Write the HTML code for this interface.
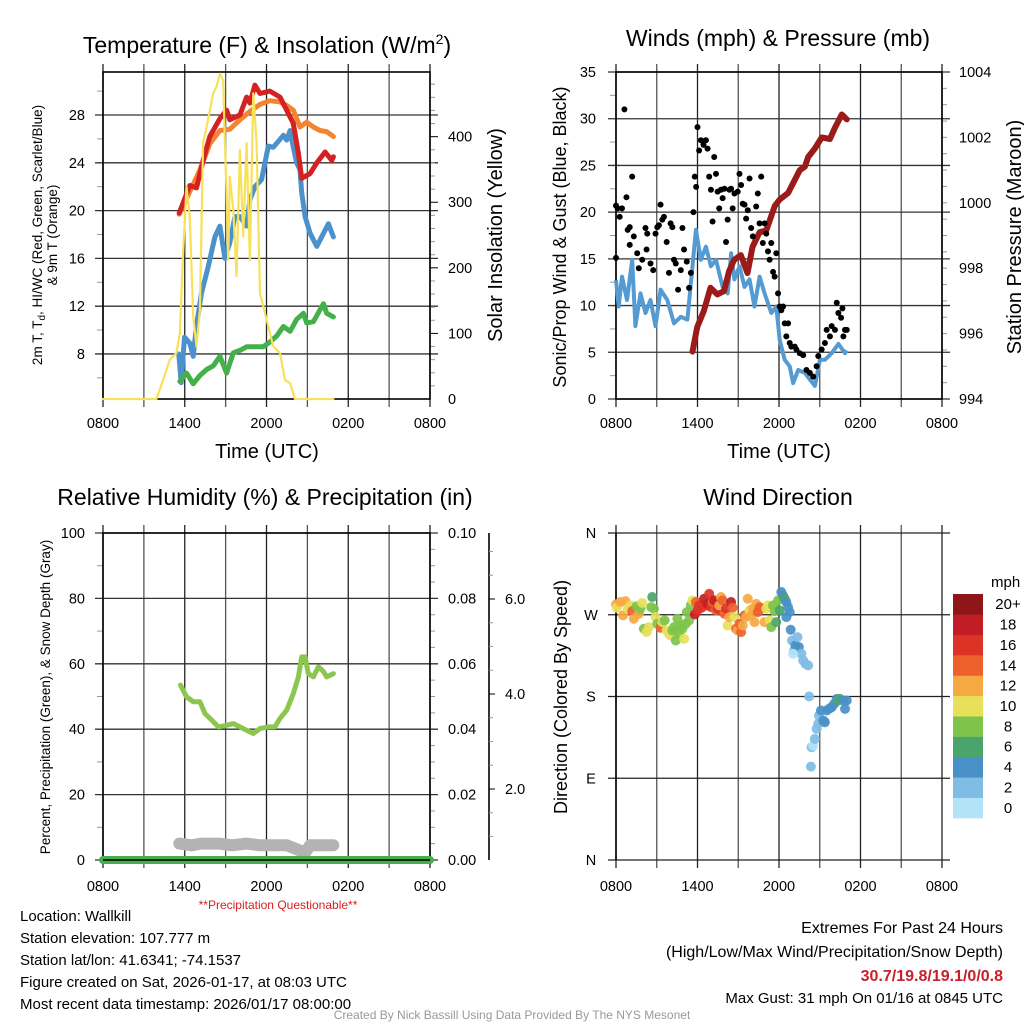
<!DOCTYPE html>
<html><head><meta charset="utf-8">
<style>
html,body{margin:0;padding:0;background:#fff;}
svg{display:block;font-family:"Liberation Sans",Arial,sans-serif;}
</style></head>
<body>
<svg id="fig" width="1024" height="1024" viewBox="0 0 1024 1024" xmlns="http://www.w3.org/2000/svg">
<rect width="1024" height="1024" fill="#fff"/>
<g id="root"></g>
</svg>
<script>
// ---------- Panel 1: temperature & insolation ----------
const tHours=[5.59,6.37,6.86,7.35,7.84,8.58,9.07,9.31,10.05,10.54,10.78,11.15,11.52,12.25,12.99,13.48,13.97,14.34,14.58,15.2,15.69,16.3,16.79,16.91];
const tVals=[19.8,22.1,21.9,24.2,26.2,27.7,28.4,27.6,28.0,29.5,29.0,30.5,29.8,30.0,29.5,28.4,27.3,24.8,22.7,23.1,24.0,24.9,24.2,24.5];
const t9Hours=[5.59,6.37,7.11,7.84,8.58,9.31,10.05,10.78,11.52,12.25,12.99,13.48,13.97,14.46,14.95,15.44,15.93,16.42,16.91];
const t9Vals=[19.7,21.6,23.4,25.6,26.7,26.8,27.6,28.3,28.9,29.2,29.1,28.8,28.4,27.0,27.4,27.0,26.7,26.6,26.2];
const tdHours=[5.56,5.74,5.98,6.37,6.62,6.86,7.23,7.72,8.21,8.58,8.95,9.31,9.68,10.05,10.54,10.78,11.15,11.64,12.13,12.5,13.24,13.48,13.73,13.97,14.22,14.46,14.58,14.83,15.2,15.69,16.18,16.54,16.91];
const tdVals=[8.0,5.6,9.4,8.9,7.8,10.4,13.1,15.3,17.8,18.7,16.0,17.3,19.5,19.5,18.7,20.9,22.0,22.6,25.4,25.3,26.3,25.9,26.7,25.3,24.0,23.4,21.5,19.5,18.1,17.0,18.1,18.9,17.8];
const wcHours=[5.64,6.13,6.62,7.11,7.6,8.09,8.58,9.07,9.56,10.05,10.54,11.03,11.76,12.25,12.75,13.24,13.73,14.22,14.71,14.95,15.44,15.93,16.18,16.42,16.91];
const wcVals=[5.7,6.4,5.5,6.2,6.7,7.0,7.8,6.4,8.1,8.3,8.6,8.6,8.6,9.0,9.5,10.3,9.9,10.9,11.4,10.6,10.7,11.7,12.2,11.4,11.1];
const solHours=[0,3.92,4.41,4.9,5.39,5.64,5.88,6.13,6.37,6.62,6.86,7.11,7.35,7.6,7.84,8.09,8.33,8.58,8.82,8.95,9.07,9.19,9.31,9.56,9.8,10.05,10.29,10.54,10.78,11.03,11.27,11.52,12.01,12.5,12.99,13.36,13.73,14.09,16.91];
const solVals=[0,0,29,60,70,100,222,324,278,126,80,136,390,415,440,466,476,496,486,390,314,212,339,288,187,380,248,390,212,466,390,161,121,80,70,29,24,0,0];
const tTicks=[8,12,16,20,24,28];
const solTicks=[0,100,200,300,400];
const timeLabels=["0800","1400","2000","0200","0800"];
// ---------- Panel 2: winds & pressure ----------
const windHours=[0,0.2,0.44,0.81,1.19,1.43,1.8,2.17,2.54,2.91,3.28,3.78,4.27,4.77,5.26,5.63,5.88,6.25,6.62,6.99,7.36,7.85,8.22,8.47,8.72,9.09,9.46,9.83,10.2,10.57,10.94,11.43,11.8,12.05,12.42,12.79,13.04,13.41,13.9,14.27,14.64,15.01,15.38,15.88,16.37,16.86,16.99];
const windVals=[12.7,9.9,13.1,10.6,14.9,7.8,11.3,9.2,10.6,7.8,11.7,10.6,8.1,8.8,8.5,14.2,18.1,14.9,16.3,14.2,14.9,12.0,11.3,15.6,12.8,14.2,12.0,12.8,9.9,13.1,11.3,9.2,9.9,6.3,4.2,3.5,1.7,3.1,2.8,2.1,1.4,4.2,4.2,4.9,5.9,4.9,5.2];
const presHours=[5.63,5.98,6.47,6.96,7.46,7.95,8.32,8.69,9.19,9.68,10.05,10.57,11.06,11.68,12.05,12.67,13.16,13.53,13.9,14.15,14.64,15.14,15.75,16.12,16.62,16.99];
const presVals=[995.45,996.2,996.7,997.4,997.2,997.3,997.9,998.25,998.4,997.85,998.65,999.1,999.15,999.9,1000.1,1000.3,1000.7,1001.0,1001.1,1001.4,1001.66,1002.0,1001.95,1002.3,1002.7,1002.55];
const gustHours=[0,0,0.12,0.27,0.44,0.62,0.77,0.86,1.01,1.19,1.01,1.31,1.56,1.68,1.93,2.17,2.3,2.25,2.54,2.74,2.91,3.04,3.16,3.28,3.41,3.53,3.73,3.9,4.02,4.15,4.27,4.4,4.57,4.77,4.89,5.01,5.21,5.38,5.51,5.7,5.8,5.9,6.0,6.12,6.25,6.44,6.62,6.74,6.86,6.99,7.11,7.23,7.36,7.48,7.6,7.73,7.85,7.98,8.1,8.22,8.35,8.47,8.59,8.72,8.96,9.09,9.21,9.33,9.46,9.58,9.7,9.83,9.95,10.07,10.32,10.44,10.57,10.69,10.81,10.94,11.06,11.19,11.31,11.43,11.56,11.68,11.8,11.93,12.05,12.17,12.3,12.42,12.54,12.67,12.79,12.91,13.16,13.28,13.53,13.78,14.02,14.27,14.52,14.77,14.89,15.14,15.38,15.51,15.75,15.88,16.12,16.25,16.37,16.57,16.67,16.74,16.86,16.99];
const gustVals=[20.7,15.1,20.4,19.5,20.4,31.0,21.6,18.1,18.4,23.8,16.5,17.4,15.6,14.0,14.9,18.3,17.7,16.0,14.5,13.8,17.7,18.4,18.6,20.8,19.2,19.5,16.8,13.5,18.8,18.4,14.9,14.5,11.7,13.8,18.3,16.0,14.7,11.9,13.5,20.0,23.8,22.7,29.1,26.6,27.7,27.2,27.7,26.8,23.8,22.4,19.0,25.9,24.1,22.2,20.4,22.4,21.5,22.5,16.8,19.2,22.4,22.5,20.4,22.0,22.2,24.1,22.9,20.9,20.8,19.3,20.2,23.6,18.3,17.4,20.6,22.0,18.8,23.8,16.7,18.8,17.7,15.8,14.9,16.7,13.6,13.1,15.6,11.3,9.9,9.5,9.9,8.1,6.7,8.1,6.0,5.6,5.6,5.3,4.9,4.7,3.1,2.8,2.4,3.5,4.6,5.3,6.0,7.4,6.7,7.8,7.4,10.3,9.2,8.7,9.7,6.7,7.4,7.4];
const windTicks=[0,5,10,15,20,25,30,35];
const presTicks=[994,996,998,1000,1002,1004];
// ---------- Panel 3: RH & precip ----------
const rhHours=[5.69,6.13,6.62,7.11,7.48,7.97,8.46,9.07,9.56,10.05,10.54,11.03,11.52,12.13,12.62,12.99,13.48,13.97,14.34,14.58,14.83,15.07,15.44,15.81,16.18,16.42,16.91];
const rhVals=[53.5,49.9,48.4,48.4,44.8,42.8,40.7,41.2,41.7,40.7,39.7,38.7,40.2,40.7,40.7,43.3,45.8,50.9,56,62.1,62.1,57,56,59.1,57.6,56,57];
const snowHours=[5.6,6.5,7.2,8.5,9.5,10.5,11.5,13.5,14.4,14.8,15.2,16.9];
const snowVals=[5.0,4.5,5.0,5.0,4.5,5.0,4.5,4.5,3.0,2.0,4.5,4.5];
const precipHours=[0,24];
const precipVals=[0,0];
const rhTicks=[0,20,40,60,80,100];
const prTicks=["0.00","0.02","0.04","0.06","0.08","0.10"];
const snowTicks=["2.0","4.0","6.0"];
// ---------- Panel 4: wind direction ----------
const dirHours=[0,0.07,0.32,0.52,0.69,0.86,1.06,1.19,1.31,1.51,1.68,1.8,1.93,2.05,2.25,2.42,2.67,2.59,2.79,2.91,3.04,3.28,3.41,3.58,3.73,3.9,4.02,4.15,4.27,4.4,4.52,4.64,4.77,4.89,5.01,5.14,5.21,5.38,5.51,5.63,5.8,5.88,6.0,6.12,6.3,6.49,6.62,6.74,6.86,6.99,7.11,7.23,7.36,7.48,7.6,7.73,7.85,7.98,8.1,8.22,8.35,8.47,8.59,8.72,8.84,8.96,9.09,9.21,9.33,9.46,9.58,9.7,9.83,9.95,10.07,10.2,10.32,10.44,10.57,10.69,10.94,11.06,11.19,11.31,11.43,11.56,11.68,11.8,11.93,12.05,12.17,12.3,12.42,12.54,12.67,12.79,12.54,12.86,12.96,13.11,13.21,13.36,13.46,13.65,13.78,13.95,14.15,14.22,14.35,14.4,14.52,14.64,14.77,14.89,14.94,15.09,15.26,15.38,15.51,15.68,15.88,16.07,16.25,16.37,16.49,16.74,16.86,16.99,13.04];
const dirDeg=[281.4,277.7,284,269.3,285,276.6,280.3,274,265.6,279.2,271.1,276.6,283,254.6,250.9,256.4,289.5,278.4,276.6,267.4,260.1,255.7,261.9,263.8,252.7,249.1,247.2,252.7,256.4,241.7,265.6,249.1,258.2,254.6,243.5,260.1,272.9,263.8,280.3,285.8,270.4,284,274.8,280.3,277.7,287.6,280.3,282,293,278.4,284,285.8,274.8,276.6,280.3,289.5,285.8,271.1,276.6,258.2,267.4,284,277.7,267.4,254.6,252.7,260.1,250.9,258.2,269.3,267.4,287.6,274.8,269.3,276.6,261.9,282,272.9,278.4,276.6,261.9,276.6,280.3,263.8,256.4,280.3,274,261.9,285.8,274.8,295,291,287.6,284,278.4,272.9,267.4,253.5,241.7,230.7,236.2,245.4,234.4,227,219.7,216,214.2,180,102.8,124.2,126,133.3,144.4,149.9,159,164.6,153.5,151.7,164.6,166.4,168.2,172,177.4,175.6,177.4,175.6,166.4,175.6,227];
const dirSpeed=[13,11,13,13,13,11,11,15,13,9,13,9,11,9,11,11,7,9,9,11,9,15,11,9,11,11,11,9,9,9,9,9,9,9,11,9,9,9,9,11,19,15,17,17,17,19,17,19,17,17,15,19,15,17,13,13,15,15,17,11,13,19,15,11,15,13,15,15,13,15,13,13,11,13,13,13,13,15,15,15,13,11,11,11,9,9,9,7,9,7,5,5,7,5,5,5,5,5,3,3,5,3,5,3,3,3,3,3,3,3,1,3,3,3,3,5,5,5,5,5,5,5,5,7,7,5,5,5,1];
const speedLabels=["0","2","4","6","8","10","12","14","16","18","20+"];
const speedColors=["#b3e3f7","#80bde5","#4a90c8","#4aa56d","#7ec34a","#e6e05a","#f6a843","#ef612c","#dd3327","#c11d24","#8e1618"];
const dirLabels=["N","E","S","W","N"];
const dirTicks=[0,90,180,270,360];

const NS="http://www.w3.org/2000/svg";
const root=document.getElementById("root");
function mk(tag,attrs,parent){const e=document.createElementNS(NS,tag);for(const k in attrs)e.setAttribute(k,attrs[k]);(parent||root).appendChild(e);return e;}
function txt(s,attrs,parent){const e=mk("text",attrs,parent);e.textContent=s;return e;}
function scale(d0,d1,r0,r1){return v=>r0+(v-d0)/(d1-d0)*(r1-r0);}
function pathD(xs,ys,fx,fy){return xs.map((h,i)=>(i?"L":"M")+fx(h).toFixed(1)+","+fy(ys[i]).toFixed(1)).join("");}

function frame(g,L,R,T,B,xf,withLabels,labelY){
  for(let h=0;h<=24;h+=3){
    const x=xf(h);
    const l=mk("line",{x1:x,y1:T-8,x2:x,y2:B+8,stroke:(h%6===0)?"#222":"#555","stroke-width":1.3},g);
    
    
  }
  if(withLabels){
    timeLabels.forEach((s,i)=>{
      const t=txt(s,{x:xf(i*6),y:labelY,"font-size":14.5,"text-anchor":"middle",fill:"#000"},g);
      
      
    });
  }
}

// ===== Panel 1 =====
(function(){
  const L=103,R=430,T=72,B=399;
  const g=mk("g",{});  
  const xf=scale(0,24,L,R), yf=scale(4.23,31.6,B,T), sf=scale(0,498.6,B,T);
  frame(g,L,R,T,B,xf,true,428);
  tTicks.forEach(v=>{
    const y=yf(v);
    const l=mk("line",{x1:L-8,y1:y,x2:R+8,y2:y,stroke:"#333","stroke-width":1.3},g);
     
    const t=txt(String(v),{x:L-18,y:y+5,"font-size":14.5,"text-anchor":"end"},g);
     
  });
  for(let v=6;v<=30;v+=4){const y=yf(v);mk("line",{x1:L-6,y1:y,x2:L,y2:y,stroke:"#999","stroke-width":1},g);}
  for(let v=20;v<=480;v+=20){const y=sf(v);mk("line",{x1:R,y1:y,x2:R+(v%100===0?8:5),y2:y,stroke:v%100===0?"#000":"#999","stroke-width":1},g);}
  solTicks.forEach(v=>{const t=txt(String(v),{x:R+18,y:sf(v)+5,"font-size":14.5},g);});
  mk("rect",{x:L,y:T,width:R-L,height:B-T,fill:"none",stroke:"#000","stroke-width":1.6},g);
  const series=[[tdHours,tdVals,yf,"#4b92cc",5,"dewpoint-line"],[wcHours,wcVals,yf,"#44b04a",5,"wind-chill-line"],[t9Hours,t9Vals,yf,"#f58431",5,"temp-9m-line"],[tHours,tVals,yf,"#d42121",5,"temp-2m-line"],[solHours,solVals,sf,"#f8e15a",2.2,"insolation-line"]];
  series.forEach(s=>{
    const p=mk("path",{d:pathD(s[0],s[1],xf,s[2]),fill:"none",stroke:s[3],"stroke-width":s[4],"stroke-linejoin":"round","stroke-linecap":"round"},g);
     
  });
  const tt=mk("text",{x:267,y:53,"font-size":23,"text-anchor":"middle"},g);
   
  tt.innerHTML='Temperature (F) &amp; Insolation (W/m<tspan dy="-9" font-size="14">2</tspan><tspan dy="9">)</tspan>';
  const yt=mk("text",{transform:"translate(42,235) rotate(-90)","font-size":13.5,"text-anchor":"middle"},g);
   
  yt.innerHTML='2m T, T<tspan font-size="10" dy="3">d</tspan><tspan dy="-3">, HI/WC (Red, Green, Scarlet/Blue)</tspan>';
  const yt2=txt("& 9m T (Orange)",{transform:"translate(57,235) rotate(-90)","font-size":13.5,"text-anchor":"middle"},g);
   
  const rt=txt("Solar Insolation (Yellow)",{transform:"translate(502,235) rotate(-90)","font-size":20,"text-anchor":"middle"},g);
   
  const xt=txt("Time (UTC)",{x:267,y:458,"font-size":20,"text-anchor":"middle"},g);
   
})();

// ===== Panel 2 =====
(function(){
  const L=616,R=942,T=72,B=399;
  const g=mk("g",{});  
  const xf=scale(0,24,L,R), yf=scale(0,35,B,T), pf=scale(994,1004,B,T);
  frame(g,L,R,T,B,xf,true,428);
  windTicks.forEach(v=>{
    const y=yf(v);
    const l=mk("line",{x1:L-8,y1:y,x2:R+8,y2:y,stroke:"#333","stroke-width":1.3},g);
     
    const t=txt(String(v),{x:L-20,y:y+5,"font-size":14.5,"text-anchor":"end"},g);
     
  });
  for(let v=2.5;v<35;v+=5){const y=yf(v);mk("line",{x1:L-6,y1:y,x2:L,y2:y,stroke:"#999","stroke-width":1},g);}
  for(let v=994.5;v<1004;v+=0.5){const y=pf(v);mk("line",{x1:R,y1:y,x2:R+5,y2:y,stroke:"#999","stroke-width":1},g);}
  presTicks.forEach(v=>{const t=txt(String(v),{x:R+17,y:pf(v)+5,"font-size":14.5},g);});
  mk("rect",{x:L,y:T,width:R-L,height:B-T,fill:"none",stroke:"#000","stroke-width":1.6},g);
  const w=mk("path",{d:pathD(windHours,windVals,xf,yf),fill:"none",stroke:"#559bd3","stroke-width":4,"stroke-linejoin":"round"},g);
   
  const pr=mk("path",{d:pathD(presHours,presVals,xf,pf),fill:"none",stroke:"#9b1b1b","stroke-width":6,"stroke-linejoin":"round","stroke-linecap":"round"},g);
   
  gustHours.forEach((h,i)=>{
    const c=mk("circle",{cx:xf(h),cy:yf(gustVals[i]),r:3,fill:"#000"},g);
     
  });
  const tt=txt("Winds (mph) & Pressure (mb)",{x:778,y:46,"font-size":23,"text-anchor":"middle"},g);
   
  const yt=txt("Sonic/Prop Wind & Gust (Blue, Black)",{transform:"translate(566,237) rotate(-90)","font-size":18,"text-anchor":"middle"},g);
   
  const rt=txt("Station Pressure (Maroon)",{transform:"translate(1021,237) rotate(-90)","font-size":20,"text-anchor":"middle"},g);
   
  const xt=txt("Time (UTC)",{x:779,y:458,"font-size":20,"text-anchor":"middle"},g);
   
})();

// ===== Panel 3 =====
(function(){
  const L=103,R=430,T=533,B=860;
  const g=mk("g",{});  
  const xf=scale(0,24,L,R), yf=scale(0,100,B,T), sf=scale(2,4,789,694);
  frame(g,L,R,T,B,xf,true,891);
  rhTicks.forEach((v,i)=>{
    const y=yf(v);
    const l=mk("line",{x1:L-8,y1:y,x2:R+8,y2:y,stroke:"#333","stroke-width":1.3},g);
     
    const t=txt(String(v),{x:L-18,y:y+5,"font-size":14.5,"text-anchor":"end"},g);
     
    const t2=txt(prTicks[i],{x:R+18,y:y+5,"font-size":14.5},g);
     
  });
  for(let v=10;v<100;v+=20){const y=yf(v);mk("line",{x1:L-6,y1:y,x2:L,y2:y,stroke:"#999","stroke-width":1},g);}
  for(let v=5;v<100;v+=5){if(v%20){const y=yf(v);mk("line",{x1:R,y1:y,x2:R+5,y2:y,stroke:"#999","stroke-width":1},g);}}
  const ax=mk("line",{x1:489,y1:T,x2:489,y2:B,stroke:"#000","stroke-width":1.6},g);
   
  for(let v=0.5;v<8;v+=0.5){const y=sf(v);if(y<T||y>B)continue;const maj=(v%2===0);mk("line",{x1:489,y1:y,x2:maj?495:493,y2:y,stroke:maj?"#000":"#999","stroke-width":1},g);}
  snowTicks.forEach(s=>{const t=txt(s,{x:505,y:sf(parseFloat(s))+5,"font-size":14.5},g);});
  mk("rect",{x:L,y:T,width:R-L,height:B-T,fill:"none",stroke:"#000","stroke-width":1.6},g);
  const sn=mk("path",{d:pathD(snowHours,snowVals,xf,yf),fill:"none",stroke:"#b3b3b3","stroke-width":12,"stroke-linejoin":"round","stroke-linecap":"round"},g);
   
  const pc=mk("path",{d:pathD(precipHours,precipVals,xf,yf),fill:"none",stroke:"#44b04a","stroke-width":8,"stroke-linecap":"round"},g);
   
  const rh=mk("path",{d:pathD(rhHours,rhVals,xf,yf),fill:"none",stroke:"#8dc64e","stroke-width":5,"stroke-linejoin":"round","stroke-linecap":"round"},g);
   
  mk("line",{x1:L,y1:B,x2:R,y2:B,stroke:"#000","stroke-width":1.6},g);
  const tt=txt("Relative Humidity (%) & Precipitation (in)",{x:265,y:505,"font-size":23,"text-anchor":"middle"},g);
   
  const yt=txt("Percent, Precipitation (Green), & Snow Depth (Gray)",{transform:"translate(50,697) rotate(-90)","font-size":13.5,"text-anchor":"middle"},g);
   
  const q=txt("**Precipitation Questionable**",{x:278,y:909,"font-size":12,"text-anchor":"middle",fill:"#d42121"},g);
   
})();

// ===== Panel 4 =====
(function(){
  const L=616,R=942,T=533,B=860;
  const g=mk("g",{});  
  const xf=scale(0,24,L,R), yf=scale(0,360,B,T);
  frame(g,L,R,T,B,xf,true,891);
  dirTicks.forEach((v,i)=>{
    const y=yf(v);
    const l=mk("line",{x1:L-8,y1:y,x2:R+8,y2:y,stroke:"#222","stroke-width":1.3},g);
     
    const t=txt(dirLabels[i],{x:591,y:y+5,"font-size":14.5,"text-anchor":"middle"},g);
     
  });
  mk("line",{x1:L,y1:T,x2:L,y2:B,stroke:"#000","stroke-width":1.6},g);
  function colorFor(s){let b=Math.floor(s/2);if(b>10)b=10;if(b<0)b=0;return speedColors[b];}
  dirHours.forEach((h,i)=>{
    const c=mk("circle",{cx:xf(h),cy:yf(dirDeg[i]),r:5,fill:colorFor(dirSpeed[i]),"fill-opacity":0.92},g);
     
  });
  const n=speedColors.length, top=594, bot=818, bh=(bot-top)/n;
  for(let i=0;i<n;i++){
    const y=top+(n-1-i)*bh;
    const r=mk("rect",{x:953,y:y,width:30,height:bh+0.3,fill:speedColors[i]},g);
     
    const t=txt(speedLabels[i],{x:1008,y:y+bh/2+5,"font-size":15,"text-anchor":"middle"},g);
     
  }
  const mp=txt("mph",{x:991,y:587,"font-size":15},g);
   
  const tt=txt("Wind Direction",{x:778,y:505,"font-size":23,"text-anchor":"middle"},g);
   
  const yt=txt("Direction (Colored By Speed)",{transform:"translate(567,697) rotate(-90)","font-size":18,"text-anchor":"middle"},g);
   
})();

// ===== Footer =====
(function(){
  const g=mk("g",{});  
  const lines=["Location: Wallkill","Station elevation: 107.777 m","Station lat/lon: 41.6341; -74.1537","Figure created on Sat, 2026-01-17, at 08:03 UTC","Most recent data timestamp: 2026/01/17 08:00:00"];
  lines.forEach((s,i)=>{const t=txt(s,{x:20,y:921+i*22,"font-size":15},g);});
  const r1=txt("Extremes For Past 24 Hours",{x:1003,y:933,"font-size":16,"text-anchor":"end"},g);
   
  const r2=txt("(High/Low/Max Wind/Precipitation/Snow Depth)",{x:1003,y:957,"font-size":16,"text-anchor":"end"},g);
   
  const r3=txt("30.7/19.8/19.1/0/0.8",{x:1003,y:981,"font-size":16,"font-weight":"bold","text-anchor":"end",fill:"#c8202a"},g);
   
  const r4=txt("Max Gust: 31 mph On 01/16 at 0845 UTC",{x:1003,y:1003,"font-size":15,"text-anchor":"end"},g);
   
  const c=txt("Created By Nick Bassill Using Data Provided By The NYS Mesonet",{x:512,y:1019,"font-size":12,"text-anchor":"middle",fill:"#999"},g);
   
})();
</script>
</body></html>
